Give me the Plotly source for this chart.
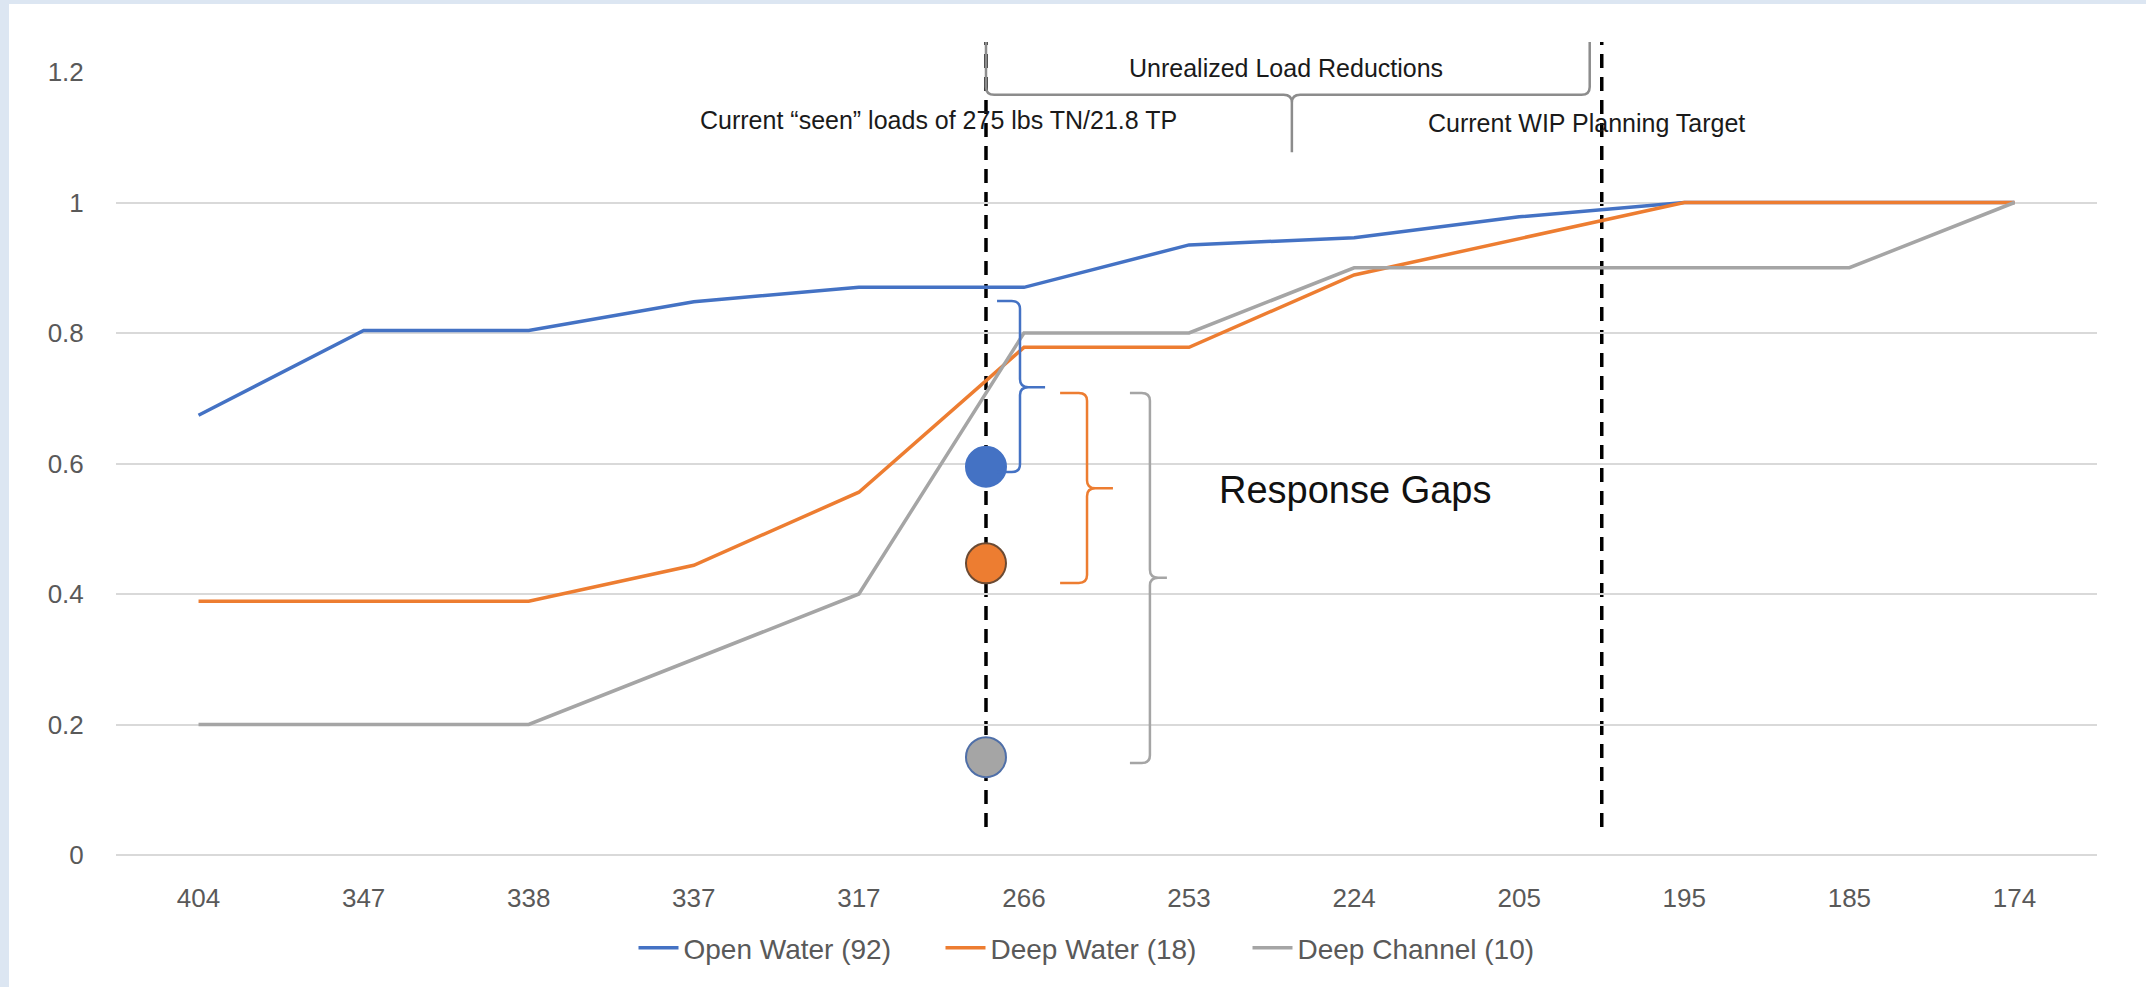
import plotly.graph_objects as go

# ---------------- data ----------------
categories = ["404", "347", "338", "337", "317", "266", "253", "224", "205", "195", "185", "174"]
open_water = [0.674, 0.804, 0.804, 0.848, 0.870, 0.870, 0.935, 0.946, 0.978, 1.0, 1.0, 1.0]
deep_water = [0.389, 0.389, 0.389, 0.444, 0.556, 0.778, 0.778, 0.889, 0.944, 1.0, 1.0, 1.0]
deep_channel = [0.2, 0.2, 0.2, 0.3, 0.4, 0.8, 0.8, 0.9, 0.9, 0.9, 0.9, 1.0]
series_names = ["Open Water (92)", "Deep Water (18)", "Deep Channel (10)"]
series_colors = ["#4472C4", "#ED7D31", "#A5A5A5"]

# observed response points at the current "seen" load (x position between 317 and 266)
seen_x = 4.77
seen_values = [0.595, 0.447, 0.150]
target_x = 8.50

y_ticks = [0, 0.2, 0.4, 0.6, 0.8, 1.0, 1.2]
y_ticklabels = ["0", "0.2", "0.4", "0.6", "0.8", "1", "1.2"]

# ---------------- layout geometry ----------------
W, H = 2146, 987
ML, MR, MT, MB = 116, 49, 72, 132
PW, PH = W - ML - MR, H - MT - MB
N = len(categories)
YMAX = 1.2
FONT = "Liberation Sans, Arial, sans-serif"


def X(i):
    """category index -> paper x"""
    return (i + 0.5) / N


def Y(v):
    """data value -> paper y"""
    return v / YMAX


def PXX(p):
    return (p - ML) / PW


def PXY(p):
    return (H - MB - p) / PH


fig = go.Figure()

for name, vals, col in zip(series_names, [open_water, deep_water, deep_channel], series_colors):
    fig.add_trace(go.Scatter(
        x=list(range(N)), y=vals, mode="lines", name=name,
        line=dict(color=col, width=3.5), hoverinfo="skip"))

fig.add_trace(go.Scatter(
    x=[seen_x] * 3, y=seen_values, mode="markers", showlegend=False,
    marker=dict(size=40, color=series_colors,
                line=dict(color=["#4472C4", "#6B4A33", "#4F6FA8"], width=2)),
    hoverinfo="skip"))

shapes = []
# white card over light-blue frame
shapes.append(dict(type="rect", xref="paper", yref="paper", layer="below",
                   x0=PXX(9), x1=PXX(W + 5), y0=PXY(H + 5), y1=PXY(4),
                   fillcolor="white", line=dict(width=0)))

# dashed reference lines
for xd in [seen_x, target_x]:
    shapes.append(dict(type="line", xref="paper", yref="paper", layer="below",
                       x0=X(xd), x1=X(xd), y0=Y(0.043), y1=Y(1.246),
                       line=dict(color="black", width=3.5, dash="14px,9px")))


def fmt(x, y):
    return f"{X(x):.5f},{Y(y):.5f}"


def vbrace(hx, vx, tx, top, bot, tip, color, rx=0.05, ry=0.012):
    d = (f"M {fmt(hx, top)} L {fmt(vx - rx, top)} Q {fmt(vx, top)} {fmt(vx, top - ry)} "
         f"L {fmt(vx, tip + ry)} Q {fmt(vx, tip)} {fmt(vx + rx, tip)} L {fmt(tx, tip)} "
         f"M {fmt(vx + rx, tip)} Q {fmt(vx, tip)} {fmt(vx, tip - ry)} "
         f"L {fmt(vx, bot + ry)} Q {fmt(vx, bot)} {fmt(vx - rx, bot)} L {fmt(hx, bot)}")
    return dict(type="path", xref="paper", yref="paper", path=d, layer="above",
                line=dict(color=color, width=2.5))


shapes.append(vbrace(4.837, 4.976, 5.128, 0.849, 0.587, 0.717, "#4472C4"))
shapes.append(vbrace(5.219, 5.382, 5.539, 0.708, 0.417, 0.562, "#ED7D31"))
shapes.append(vbrace(5.642, 5.763, 5.866, 0.708, 0.141, 0.425, "#A5A5A5"))

# top horizontal brace (Unrealized Load Reductions)
l, m, r = seen_x, 6.623, 8.427
top, bar, tipb = 1.246, 1.165, 1.077
rx, ry = 0.05, 0.012
d = (f"M {fmt(l, top)} L {fmt(l, bar + ry)} Q {fmt(l, bar)} {fmt(l + rx, bar)} "
     f"L {fmt(m - rx, bar)} Q {fmt(m, bar)} {fmt(m, bar - ry)} L {fmt(m, tipb)} "
     f"M {fmt(m, bar - ry)} Q {fmt(m, bar)} {fmt(m + rx, bar)} "
     f"L {fmt(r - rx, bar)} Q {fmt(r, bar)} {fmt(r, bar + ry)} L {fmt(r, top)}")
shapes.append(dict(type="path", xref="paper", yref="paper", path=d, layer="above",
                   line=dict(color="#8C8C8C", width=2.5)))

annotations = [
    dict(x=X(4.48), y=Y(1.126), text="Current \u201cseen\u201d loads of 275 lbs TN/21.8 TP",
         font=dict(size=25, color="#1a1a1a", family=FONT)),
    dict(x=X(6.587), y=Y(1.206), text="Unrealized Load Reductions",
         font=dict(size=25, color="#1a1a1a", family=FONT), bgcolor="white"),
    dict(x=X(8.41), y=Y(1.122), text="Current WIP Planning Target",
         font=dict(size=25, color="#1a1a1a", family=FONT)),
    dict(x=X(7.01), y=Y(0.559), text="Response Gaps",
         font=dict(size=38, color="#111111", family=FONT)),
]
for a in annotations:
    a.update(xref="paper", yref="paper", showarrow=False, xanchor="center", yanchor="middle")

fig.update_layout(
    width=W, height=H,
    margin=dict(l=ML, r=MR, t=MT, b=MB, pad=0),
    paper_bgcolor="#DCE6F2",
    plot_bgcolor="rgba(0,0,0,0)",
    font=dict(family=FONT, color="#595959", size=26),
    showlegend=True,
    legend=dict(orientation="h", x=PXX(1094), xanchor="center", y=PXY(948), yanchor="middle",
                font=dict(size=28, color="#595959", family=FONT),
                bgcolor="rgba(0,0,0,0)", itemwidth=40, tracegroupgap=0,
                entrywidth=252, entrywidthmode="pixels"),
    shapes=shapes,
    annotations=annotations,
    xaxis=dict(range=[-0.5, N - 0.5], tickvals=list(range(N)), ticktext=categories,
               showgrid=False, zeroline=False, showline=False,
               ticks="outside", ticklen=20, tickcolor="rgba(0,0,0,0)",
               tickfont=dict(size=26, color="#595959", family=FONT), fixedrange=True),
    yaxis=dict(range=[0, YMAX], tickvals=y_ticks, ticktext=y_ticklabels,
               showgrid=True, gridcolor="#D9D9D9", gridwidth=2,
               zeroline=True, zerolinecolor="#D9D9D9", zerolinewidth=2, showline=False,
               ticks="outside", ticklen=26, tickcolor="rgba(0,0,0,0)",
               tickfont=dict(size=26, color="#595959", family=FONT), fixedrange=True),
)

fig.write_html("out.html", config={"displayModeBar": False})
